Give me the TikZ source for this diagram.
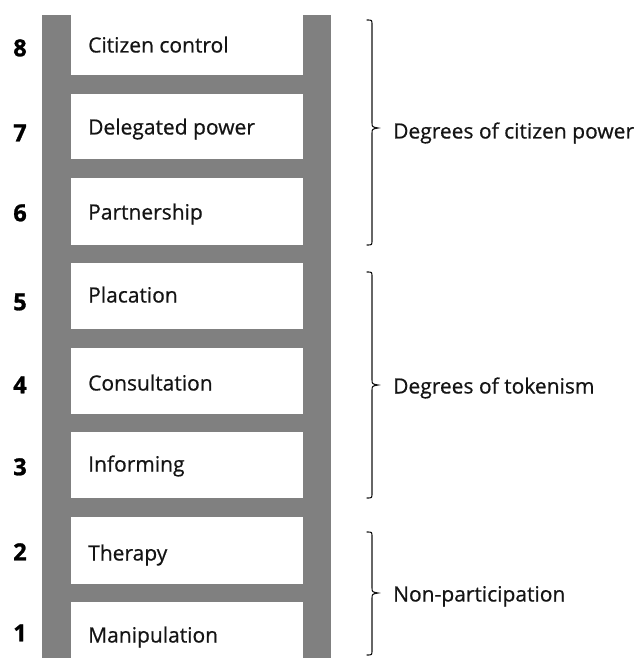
\documentclass[tikz,border=0pt]{standalone}
\usepackage{fontspec}
\setmainfont{Open Sans}
\newfontfamily\labelfont[FakeBold=0.6]{Open Sans}
\newfontfamily\numfont[FakeBold=1.2]{Open Sans Bold}
\definecolor{railgray}{RGB}{128,128,128}
\definecolor{inkdark}{RGB}{20,20,20}
\begin{document}
\begin{tikzpicture}[x=1pt,y=-1pt,
  steplabel/.style={anchor=west, inner sep=0pt, text height=15pt, text depth=0pt,
    font=\labelfont\fontsize{21}{25}\selectfont, text=inkdark},
  stepnum/.style={inner sep=0pt, text height=16.5pt, text depth=0pt,
    font=\numfont\fontsize{23.5}{27}\selectfont, text=black},
  grouplabel/.style={anchor=west, inner sep=0pt, text height=15pt, text depth=0pt,
    font=\labelfont\fontsize{21}{25}\selectfont, text=inkdark},
  bracket/.style={draw=inkdark, line width=1.1pt, line cap=round}]
\useasboundingbox (0,0) rectangle (638,658);

% ladder: two rails and rungs, with the white step panels cut out
\fill[railgray] (42,15) rectangle (331,658);
\foreach \n/\t/\b/\c/\nc/\txt in {
    8/15/75/45/48/Citizen control,
    7/94/159/127/133/Delegated power,
    6/178/245/212/213/Partnership,
    5/263/329/295/302/Placation,
    4/348/414/383/385/Consultation,
    3/432/498/464/467/Informing,
    2/517/584/553/552/Therapy,
    1/602/658/635/633/Manipulation}{
  \fill[white] (71,\t) rectangle (303,\b);
  \node[steplabel] (step\n) at (88,\c) {\txt};
  \node[stepnum] (num\n) at (20,\nc) {\n};
}

% curly brackets grouping the rungs
\newcommand\groupbrace[4]{% x, top, tip, bottom
  \draw[bracket] (#1-5,#2) .. controls (#1,#2) .. (#1,#2+5)
    -- (#1,#3-6) .. controls (#1,#3-1) .. (#1+6,#3)
    .. controls (#1,#3+1) .. (#1,#3+6)
    -- (#1,#4-5) .. controls (#1,#4) .. (#1-5,#4);}
\groupbrace{372}{20}{128}{245}
\groupbrace{372}{272}{385}{498}
\groupbrace{372}{532}{593}{655}

\coordinate (tipA) at (378,128);
\coordinate (tipB) at (378,385);
\coordinate (tipC) at (378,593);
\node[grouplabel] (power) at (393,131) {Degrees of citizen power};
\node[grouplabel] (tokenism) at (393,386) {Degrees of tokenism};
\node[grouplabel] (nonpart) at (393,594) {Non-participation};
\end{tikzpicture}
\end{document}
